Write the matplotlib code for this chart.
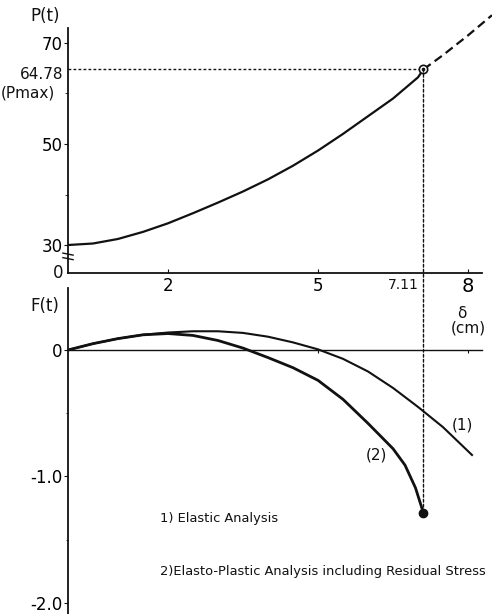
import numpy as np
import matplotlib
matplotlib.use('Agg')
import matplotlib.pyplot as plt
from matplotlib.patches import ConnectionPatch
from matplotlib.transforms import blended_transform_factory

####################################################################################

# load-deflection curve P(t) against deflection delta (cm)
DELTA_P = [0.0, 0.5, 1.0, 1.5, 2.0, 2.5, 3.0, 3.5, 4.0, 4.5, 5.0, 5.5, 6.0, 6.5, 7.0, 7.11]
LOAD_P  = [30.0, 30.3, 31.2, 32.6, 34.3, 36.3, 38.4, 40.6, 43.0, 45.7, 48.7, 52.0, 55.5, 59.0, 63.2, 64.78]

# continuation past the maximum load (dashed)
DELTA_P_EXT = [7.11, 7.5, 8.0, 8.48]
LOAD_P_EXT  = [64.78, 67.6, 71.5, 75.5]

DELTA_MAX = 7.11
P_MAX = 64.78

# F(t) for (1) elastic analysis
DELTA_F1 = [0.0, 0.5, 1.0, 1.5, 2.0, 2.5, 3.0, 3.5, 4.0, 4.5, 5.0, 5.5, 6.0, 6.5, 7.0, 7.5, 8.08]
F1       = [0.0, 0.05, 0.09, 0.12, 0.138, 0.148, 0.148, 0.135, 0.105, 0.06, 0.005, -0.07, -0.17, -0.30, -0.45, -0.61, -0.83]

# F(t) for (2) elasto-plastic analysis including residual stress
DELTA_F2 = [0.0, 0.5, 1.0, 1.5, 2.0, 2.5, 3.0, 3.5, 4.0, 4.5, 5.0, 5.5, 6.0, 6.5, 6.74, 6.95, 7.11]
F2       = [0.0, 0.05, 0.09, 0.12, 0.13, 0.115, 0.075, 0.015, -0.06, -0.14, -0.24, -0.39, -0.58, -0.78, -0.91, -1.09, -1.29]

P_TICKS = [30, 50, 70]
P_MINOR = [40, 60]
F_TICKS = [0, -1.0, -2.0]
F_TICK_LABELS = ['0', '-1.0', '-2.0']
X_TICKS = [2, 5, 8]

####################################################################################

W_PX, H_PX = 492, 614
INK = '#111111'
DOTTED = (0, (2.0, 1.6))

plt.rcParams['font.family'] = 'DejaVu Sans'

def px_box(left, top, right, bottom):
    return [left / W_PX, 1 - bottom / H_PX, (right - left) / W_PX, (bottom - top) / H_PX]

figure = plt.figure(figsize=(W_PX / 100, H_PX / 100), dpi=100, facecolor='white')

X_LIM = (0, 8.48)
AXIS_END = 8.28

# ---------------- lower panel: F(t) ----------------
ax2 = figure.add_axes(px_box(68, 288, 492, 614))
ax2.patch.set_visible(False)
ax2.set_xlim(*X_LIM)
ax2.set_ylim(-2.087, 0.49)
for side in ('top', 'right'):
    ax2.spines[side].set_visible(False)
ax2.spines['bottom'].set_position(('data', 0))
ax2.spines['bottom'].set_bounds(0, AXIS_END)
ax2.spines['bottom'].set_linewidth(1.0)
ax2.spines['left'].set_linewidth(1.3)
for side in ('left', 'bottom'):
    ax2.spines[side].set_color(INK)

ax2.set_yticks(F_TICKS)
ax2.set_yticklabels(F_TICK_LABELS, fontsize=12)
ax2.set_yticks([-0.5, -1.5], minor=True)
ax2.tick_params(axis='y', which='major', direction='out', length=3, pad=1, color=INK)
ax2.tick_params(axis='y', which='minor', direction='out', length=1.5, color=INK)
ax2.set_xticks([5, 8])
ax2.set_xticklabels([])
ax2.tick_params(axis='x', direction='out', length=2, color=INK)

ax2.plot(DELTA_F1, F1, color=INK, lw=1.5)
ax2.plot(DELTA_F2, F2, color=INK, lw=2.0)
ax2.plot([DELTA_F2[-1]], [F2[-1]], marker='o', ms=6, color=INK, zorder=5)

ax2.text(-0.46, 0.35, 'F(t)', fontsize=12, ha='center', va='center', color=INK)
ax2.text(7.88, -0.593, '(1)', fontsize=11, ha='center', va='center', color=INK)
ax2.text(6.16, -0.83, '(2)', fontsize=11, ha='center', va='center', color=INK)
ax2.text(7.88, 0.29, 'δ', fontsize=11, ha='center', va='center', color=INK)
ax2.text(8.0, 0.17, '(cm)', fontsize=11, ha='center', va='center', color=INK)

ax2.text(1.84, -1.33, '1) Elastic Analysis', fontsize=9.4, ha='left', va='center', color=INK)
ax2.text(1.84, -1.752, '2)Elasto-Plastic Analysis including Residual Stress',
         fontsize=9.4, ha='left', va='center', color=INK)

# ---------------- upper panel: P(t) ----------------
ax1 = figure.add_axes(px_box(68, 10, 492, 273))
ax1.patch.set_visible(False)
ax1.set_xlim(*X_LIM)
ax1.set_ylim(24.46, 76.53)
for side in ('top', 'right'):
    ax1.spines[side].set_visible(False)
ax1.spines['left'].set_bounds(24.46, 73.0)
ax1.spines['bottom'].set_bounds(0, AXIS_END)
for side in ('left', 'bottom'):
    ax1.spines[side].set_linewidth(1.3)
    ax1.spines[side].set_color(INK)

ax1.set_yticks(P_TICKS)
ax1.set_yticklabels([str(v) for v in P_TICKS], fontsize=12)
ax1.set_yticks(P_MINOR, minor=True)
ax1.tick_params(axis='y', which='major', direction='out', length=3, pad=1, color=INK)
ax1.tick_params(axis='y', which='minor', direction='out', length=2, color=INK)
ax1.set_xticks(X_TICKS)
ax1.set_xticklabels([str(v) for v in X_TICKS], fontsize=12)
ax1.tick_params(axis='x', direction='in', length=3, pad=3, color=INK)
ax1.get_xticklabels()[-1].set_fontsize(14)

# "0" at the broken base of the P axis
ax1.text(-0.09, 24.46, '0', fontsize=12, ha='right', va='center', color=INK)
ax1.text(DELTA_MAX - 0.1, 24.46 - 0.9, '7.11', fontsize=10, ha='right', va='top', color=INK)

# axis break marks
ymark = blended_transform_factory(ax1.transAxes, ax1.transData)
for yb in (28.2, 27.3):
    ax1.plot([-0.012, 0.012], [yb + 0.2, yb - 0.2], color=INK, lw=1.0,
             transform=ymark, clip_on=False)

ax1.plot(DELTA_P, LOAD_P, color=INK, lw=1.6, solid_capstyle='round')
ax1.plot(DELTA_P_EXT, LOAD_P_EXT, color=INK, lw=1.6, linestyle=(0, (4, 2.2)), clip_on=False)
ax1.plot([0, DELTA_MAX], [P_MAX, P_MAX], color=INK, lw=1.0, linestyle=DOTTED)
ax1.plot([DELTA_MAX], [P_MAX], marker='o', ms=6, mfc='white', mec=INK, mew=1.2, zorder=5)
ax1.plot([DELTA_MAX], [P_MAX], marker='o', ms=1.6, color=INK, zorder=6)

ax1.text(-0.1, P_MAX - 1.0, '64.78', fontsize=11, ha='right', va='center', color=INK)
ax1.text(-0.26, P_MAX - 4.6, '(Pmax)', fontsize=11, ha='right', va='center', color=INK)
ax1.text(-0.46, 75.4, 'P(t)', fontsize=12, ha='center', va='center', color=INK)

# vertical guide at the maximum load running through both panels
guide = ConnectionPatch(xyA=(DELTA_MAX, P_MAX), coordsA=ax1.transData,
                        xyB=(DELTA_MAX, F2[-1]), coordsB=ax2.transData,
                        color=INK, lw=1.0, linestyle=DOTTED)
figure.add_artist(guide)

plt.savefig('out.png', dpi=100, facecolor='white')
